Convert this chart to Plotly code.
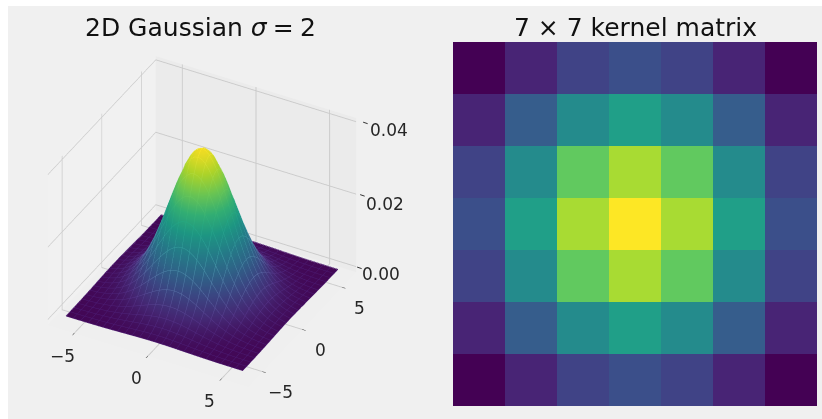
import plotly.graph_objects as go
import numpy as np

W, H = 822, 419
grid_half = [0.0, 0.25, 0.5, 0.75, 1.0, 1.25, 1.5, 1.75, 2.0, 2.25, 2.5, 2.75, 3.0, 3.25, 3.5,
             3.75, 4.0, 4.25, 4.5, 4.75, 5.0, 5.25, 5.5, 5.75, 6.0]
profile_half = [1.0, .9922, .9692, .9321, .8825, .8226, .7548, .6817, .6065, .5311, .4578, .3886,
                .3247, .2670, .2163, .1724, .1353, .1045, .0796, .0596, .0439, .0319, .0228,
                .0160, .0111]
peak = 0.0398
kernel = [
    [.0042, .0078, .0114, .0129, .0114, .0078, .0042],
    [.0078, .0146, .0213, .0242, .0213, .0146, .0078],
    [.0114, .0213, .0310, .0351, .0310, .0213, .0114],
    [.0129, .0242, .0351, .0398, .0351, .0242, .0129],
    [.0114, .0213, .0310, .0351, .0310, .0213, .0114],
    [.0078, .0146, .0213, .0242, .0213, .0146, .0078],
    [.0042, .0078, .0114, .0129, .0114, .0078, .0042],
]
titles = ["2D Gaussian <i>σ</i>\u2005=\u20052", "7 × 7 kernel matrix"]
xy_ticks = [-5, 0, 5]
xy_labels = ["−5", "0", "5"]
z_ticks = [0.0, 0.02, 0.04]
z_labels = ["0.00", "0.02", "0.04"]
XR = [-6.8, 6.8]
ZR = [-0.0015, 0.041]
mesh_scale = [[0, "#4a1870"], [0.1, "#56388c"], [0.2, "#5868a3"], [0.3, "#4f86aa"], [0.4, "#3f9aa5"],
              [0.5, "#2a9f95"], [0.6, "#22a884"], [0.8, "#7ad151"], [1, "#fde725"]]

xs = np.array([-v for v in grid_half[:0:-1]] + grid_half)
p = np.array(profile_half[:0:-1] + profile_half)
Z = peak * np.outer(p, p)

# mesh lines running over the surface, every second grid row and column
mx, my, mz = [], [], []
for i in range(0, len(xs), 2):
    mx += list(xs) + [None]
    my += [xs[i]] * len(xs) + [None]
    mz += list(Z[i] + 0.00012) + [None]
    mx += [xs[i]] * len(xs) + [None]
    my += list(xs) + [None]
    mz += list(Z[:, i] + 0.00012) + [None]
mc = [0 if v is None else v for v in mz]

FONT = "DejaVu Sans"
LABEL = dict(family=FONT, size=17, color="#262626")
fig = go.Figure()
fig.add_trace(go.Surface(x=xs, y=xs, z=Z, colorscale="Viridis", cmin=-0.0008, cmax=peak, showscale=False,
                         lighting=dict(ambient=0.95, diffuse=0.12, specular=0, roughness=1, fresnel=0),
                         lightposition=dict(x=-1000, y=-1000, z=2000)))
fig.add_trace(go.Scatter3d(x=mx, y=my, z=mz, mode="lines", showlegend=False, hoverinfo="skip",
                           line=dict(width=1, color=mc, colorscale=mesh_scale, cmin=0, cmax=peak)))
fig.add_trace(go.Heatmap(z=kernel, colorscale="Viridis", showscale=False, xaxis="x", yaxis="y", xgap=0, ygap=0))

axcommon = dict(showbackground=True, gridcolor="#cbcbcb", gridwidth=2,
                showline=False, zeroline=False, title=dict(text=""), ticks="outside", ticklen=4,
                tickcolor="#333333", showticklabels=False, showspikes=False)
s_annots = []
for t, lab, dx, dy, tx in zip(z_ticks, z_labels, [4, 8, 12], [-8, -10, -9], [1, 4, 7]):
    s_annots.append(dict(x=XR[1], y=XR[1], z=t, text=lab, showarrow=False, xanchor="left", xshift=dx, yshift=dy,
                         font=LABEL))
    s_annots.append(dict(x=XR[1], y=XR[1], z=t, text="", showarrow=True, arrowhead=0, arrowwidth=1,
                         arrowcolor="#333333", ax=6, ay=2, standoff=0, xshift=tx, yshift=-1))
for t, lab in zip(xy_ticks, xy_labels):
    s_annots.append(dict(x=t, y=XR[0], z=ZR[0], text=lab, showarrow=False, xshift=-12, yshift=-23, font=LABEL))
    s_annots.append(dict(x=XR[1], y=t, z=ZR[0], text=lab, showarrow=False, xshift=18, yshift=-21, font=LABEL))

fig.update_layout(
    width=W, height=H, margin=dict(l=0, r=0, t=0, b=0), paper_bgcolor="#ffffff", plot_bgcolor="#f0f0f0",
    showlegend=False,
    xaxis=dict(domain=[453/W, 817/W], visible=False, range=[-0.5, 6.5]),
    yaxis=dict(domain=[1-406/H, 1-42/H], visible=False, range=[6.5, -0.5]),
    scene=dict(
        domain=dict(x=[6/W, 398/W], y=[3.5/H, 1-26.5/H]),
        bgcolor="rgba(0,0,0,0)",
        camera=dict(eye=dict(x=0.76, y=-1.41, z=1.12), center=dict(x=0, y=0, z=0), up=dict(x=0, y=0, z=1),
                    projection=dict(type="orthographic")),
        aspectmode="manual", aspectratio=dict(x=1.17, y=1.17, z=0.966),
        xaxis=dict(axcommon, range=XR, tickvals=xy_ticks, backgroundcolor="#f1f1f1"),
        yaxis=dict(axcommon, range=XR, tickvals=xy_ticks, backgroundcolor="#ebebeb"),
        zaxis=dict(axcommon, range=ZR, tickvals=z_ticks, ticks="", backgroundcolor="#efefef"),
        annotations=s_annots,
    ),
    shapes=[dict(type="rect", xref="paper", yref="paper", x0=8/W, x1=1, y0=0, y1=1-6/H,
                 fillcolor="#f0f0f0", line=dict(width=0), layer="below")],
    annotations=[
        dict(text=titles[0], x=200/W, y=1-27/H, xref="paper", yref="paper", showarrow=False,
             xanchor="center", yanchor="middle", font=dict(family=FONT, size=25, color="#111111")),
        dict(text=titles[1], x=635/W, y=1-27/H, xref="paper", yref="paper", showarrow=False,
             xanchor="center", yanchor="middle", font=dict(family=FONT, size=25, color="#111111")),
    ],
)
fig.write_html("out.html", config=dict(displayModeBar=False), post_script="document.body.style.margin='0';")
